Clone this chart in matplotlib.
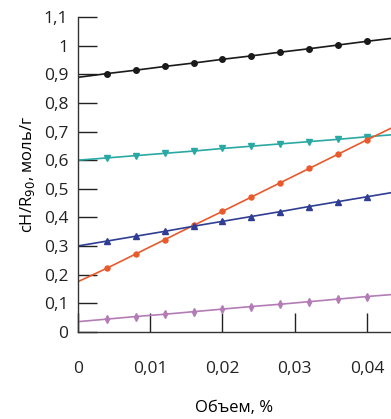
import matplotlib
matplotlib.use("Agg")
from matplotlib import pyplot as plt

# объем, %
x = [0, 0.004, 0.008, 0.012, 0.016, 0.020, 0.024, 0.028, 0.032, 0.036, 0.040, 0.044]

chernaya = [0.89, 0.903, 0.915, 0.928, 0.940, 0.953, 0.965, 0.978, 0.990, 1.003, 1.016, 1.028]
biryuza = [0.60, 0.608, 0.616, 0.624, 0.632, 0.641, 0.649, 0.657, 0.665, 0.673, 0.682, 0.690]
oranzh = [0.175, 0.222, 0.272, 0.322, 0.372, 0.421, 0.471, 0.521, 0.571, 0.621, 0.671, 0.720]
sinyaya = [0.30, 0.317, 0.334, 0.351, 0.369, 0.386, 0.403, 0.420, 0.438, 0.455, 0.472, 0.489]
fiolet = [0.035, 0.044, 0.053, 0.061, 0.070, 0.079, 0.088, 0.096, 0.105, 0.114, 0.123, 0.131]

xticks = [0, 0.01, 0.02, 0.03, 0.04]
xlabels = ["0", "0,01", "0,02", "0,03", "0,04"]
yticks = [0, 0.1, 0.2, 0.3, 0.4, 0.5, 0.6, 0.7, 0.8, 0.9, 1.0, 1.1]
ylabels = ["0", "0,1", "0,2", "0,3", "0,4", "0,5", "0,6", "0,7", "0,8", "0,9", "1", "1,1"]

plt.rcParams['font.family'] = ['Open Sans', 'DejaVu Sans']

fig = plt.figure(figsize=(3.91, 4.19), dpi=100)
ax = fig.add_axes([0.1995, 0.2084, 0.8005, 0.7503])

serii = [
    (chernaya, "#1a1a1a", "o", 4),
    (biryuza, "#2aa8a4", "v", 4.5),
    (oranzh, "#e85a2c", "o", 3.6),
    (sinyaya, "#2f3d93", "^", 4.5),
    (fiolet, "#b47cb6", "d", 4),
]
for ys, cvet, mark, ms in serii:
    ax.plot(x, ys, color=cvet, lw=1.2, marker=mark, ms=ms, markevery=slice(1, None))

ax.set_xlim(0, 0.04334)
ax.set_ylim(0, 1.1)
ax.set_xticks(xticks)
ax.set_xticklabels(xlabels)
ax.set_yticks(yticks)
ax.set_yticklabels(ylabels)
ax.tick_params(axis='x', direction='in', length=14, width=1, pad=21, labelsize=12.5, colors='#222222')
ax.tick_params(axis='y', direction='in', length=14, width=1, pad=7, labelsize=12.5, colors='#222222')
for s in ['top', 'right']:
    ax.spines[s].set_visible(False)
for s in ['left', 'bottom']:
    ax.spines[s].set_color('#333333')
    ax.spines[s].set_linewidth(1)

ax.set_xlabel("Объем, %", fontsize=12, labelpad=17)
ax.set_ylabel("cH/R$_{90}$, моль/г", fontsize=12, labelpad=5)

fig.savefig("out.png", dpi=100)
